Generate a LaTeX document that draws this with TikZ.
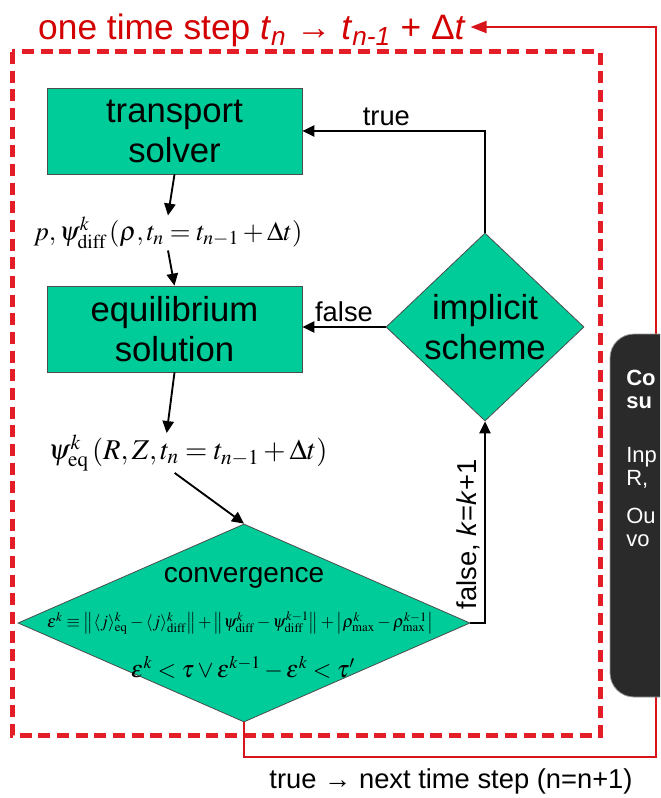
\documentclass[tikz,border=0pt]{standalone}
\usepackage{mathptmx}
\usepackage[no-math]{fontspec}
\setmainfont{Liberation Sans}
\usetikzlibrary{arrows.meta,shapes.geometric,calc}
\definecolor{boxgreen}{RGB}{0,204,153}
\definecolor{stepred}{RGB}{228,30,38}
\definecolor{loopred}{RGB}{215,20,25}
\definecolor{titlered}{RGB}{210,0,0}
\definecolor{panelgrey}{RGB}{42,42,42}
\definecolor{ink}{RGB}{0,0,0}
\tikzset{
	flow/.style={-{Triangle[length=9pt,width=8.5pt]},line width=1.4pt,draw=ink},
	block/.style={draw=black!70,line width=0.6pt,fill=boxgreen,align=center,
		minimum width=191.25pt,minimum height=64.5pt,inner sep=0pt,
		font=\fontsize{26}{30}\selectfont},
	decision/.style={diamond,draw=black!70,line width=0.6pt,fill=boxgreen,
		align=center,inner sep=0pt},
	formula/.style={inner sep=1pt,text=ink},
	flowlabel/.style={font=\fontsize{20.5}{24}\selectfont,text=ink,inner sep=3pt},
	framebox/.style={draw=stepred,line width=3.75pt,dash pattern=on 9pt off 5pt},
	loopline/.style={draw=loopred,line width=1.5pt,-{Triangle[length=12pt,width=9pt]}},
	panel/.style={fill=panelgrey,draw=black!40,line width=0.6pt,rounded corners=18pt},
}

\begin{document}
\begin{tikzpicture}[x=0.75pt,y=-0.75pt]
	\useasboundingbox (0,0) rectangle (660,798);
	\clip (0,0) rectangle (660,798);
	
	% one time step
	\draw[framebox] (12,52) rectangle (600,735);
	\node[font=\fontsize{26.5}{30}\selectfont,text=titlered,anchor=base] (title) at (252,40)
	{one time step \textit{t}\textsubscript{\textit{n}} \textbf{→} \textit{t}\textsubscript{\textit{n-1}} + Δ\textit{t}};
	
	\node[block] (trans) at (174.5,131) {transport\\solver};
	\node[formula,font=\fontsize{20}{24}\selectfont] (pform) at (168,233)
	{$p,\psi^{k}_{\mathrm{diff}}\left(\rho,t_n=t_{n-1}+\Delta t\right)$};
	\node[block] (equil) at (174.5,329) {equilibrium\\solution};
	\node[formula,font=\fontsize{21.5}{26}\selectfont] (qform) at (188,453)
	{$\psi^{k}_{\mathrm{eq}}\left(R,Z,t_n=t_{n-1}+\Delta t\right)$};
	
	\node[decision,minimum width=339pt,minimum height=148.5pt] (conv) at (244,623) {};
	\node[font=\fontsize{21}{25}\selectfont] (convtitle) at (244,578) {convergence};
	\node[formula,font=\fontsize{13}{16}\selectfont] (cform) at (240,623)
	{$\varepsilon^{k}\equiv\big\|\langle j\rangle^{k}_{\mathrm{eq}}-\langle j\rangle^{k}_{\mathrm{diff}}\big\|+\big\|\psi^{k}_{\mathrm{diff}}-\psi^{k-1}_{\mathrm{diff}}\big\|+\big|\rho^{k}_{\max}-\rho^{k-1}_{\max}\big|$};
	\node[formula,font=\fontsize{18}{22}\selectfont] (cstop) at (243,668)
	{$\varepsilon^{k}<\tau\vee\varepsilon^{k-1}-\varepsilon^{k}<\tau'$};
	
	\node[decision,minimum width=148.5pt,minimum height=141pt,
	font=\fontsize{26}{30}\selectfont] (impl) at (485,327) {implicit\\scheme};
	
	\draw[flow] (trans.south) -- (pform.north);
	\draw[flow] (pform.south) -- (equil.north);
	\draw[flow] (equil.south) -- ([xshift=-16pt]qform.north);
	\draw[flow] ([xshift=-10pt]qform.south) -- (conv.north);
	\draw[flow] (impl.north) |- node[flowlabel,pos=0.77,above] {true} (trans.east);
	\draw[flow] (impl.west) -- node[flowlabel,above] {false} (impl.west -| equil.east);
	\draw[flow] (conv.east) -| node[flowlabel,pos=0.72,rotate=90,anchor=south]
	{false, \textit{k}=\textit{k}+1} (impl.south);
	
	% back to the next time step
	\coordinate (loopbr) at (656,757);
	\coordinate (looptr) at (656,27);
	\draw[loopline] (conv.south) |- (loopbr) -- (looptr) -- (title.east |- looptr);
	\node[font=\fontsize{20.5}{24}\selectfont] (nextlabel) at (451,781)
	{true → next time step (n=n+1)};
	
	% panel runs on past the right edge
	\filldraw[panel] (700,334) -- (610,334) -- (610,697) -- (700,697);
	\node[anchor=north west,align=left,inner sep=0pt,text=white,
	font=\fontsize{16.5}{17}\selectfont] (paneltext) at (626,370)
	{\textbf{Co}\\\textbf{su}\\[24pt]Inp\\R,\\[11.5pt]Ou\\vo};
	
\end{tikzpicture}
\end{document}
